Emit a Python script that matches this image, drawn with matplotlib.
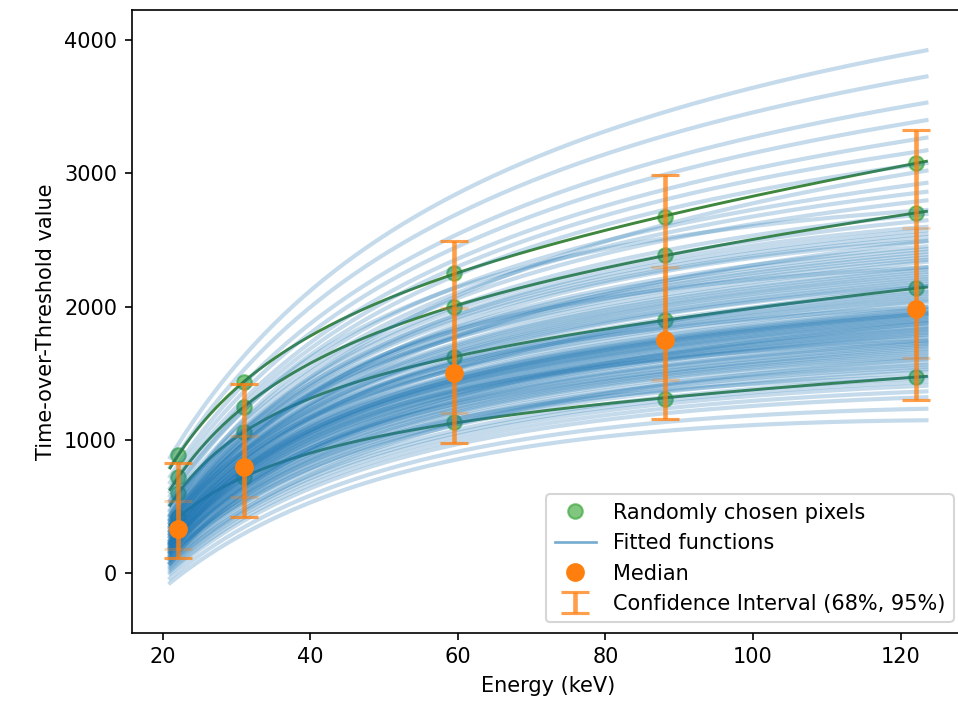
import numpy as np
import matplotlib
matplotlib.use("Agg")
import matplotlib.pyplot as plt
from matplotlib.lines import Line2D

# ---------------- data ----------------
energies = np.array([22.1, 30.97, 59.54, 88.03, 122.06])   # keV

# ToT of the many pixels whose fits form the blue cloud (one entry per pixel)
tot22 = [-20, 52, 88, 114, 134, 205, 167, 181, 193, 152, 216, 226, 236, 245, 296, 263,
         272, 280, 288, 254, 304, 312, 371, 328, 337, 348, 360, 320, 382, 393, 405, 481,
         429, 441, 454, 467, 416, 495, 510, 527, 635, 570, 600, 545, 680, 740, 830, 980,
         16, 70, 101, 124, 143, 160, 174, 187, 199, 211, 221, 231, 241, 250, 259, 268,
         276, 284, 292, 300, 308, 316, 324, 333, 343, 354, 366, 377, 388, 399, 411, 423,
         435, 448, 461, 474, 488, 503, 519, 536, 558, 585, 618, 658, 710, 785, 905, 300]
tot31 = [290, 390, 440, 478, 510, 535, 550, 570, 588, 606, 667, 638, 653, 622, 680, 694,
         707, 719, 731, 744, 756, 768, 779, 791, 803, 865, 828, 840, 852, 815, 878, 891,
         904, 918, 995, 947, 962, 978, 932, 1013, 1032, 1062, 1098, 1140, 1195, 1270, 1390, 1600,
         340, 415, 459, 494, 523, 543, 560, 579, 597, 614, 630, 646, 660, 674, 687, 701,
         713, 725, 738, 750, 762, 774, 785, 797, 809, 822, 834, 846, 859, 872, 885, 898,
         911, 925, 940, 955, 970, 987, 1004, 1023, 1047, 1080, 1119, 1168, 1233, 1330, 1495, 760]
tot59 = [860, 970, 1030, 1075, 1112, 1145, 1175, 1200, 1225, 1248, 1270, 1290, 1309, 1328, 1346, 1363,
         1381, 1397, 1413, 1430, 1445, 1461, 1477, 1492, 1513, 1538, 1564, 1590, 1616, 1643, 1670, 1697,
         1725, 1754, 1784, 1815, 1847, 1880, 1916, 1954, 1995, 2042, 2095, 2180, 2280, 2400, 2580, 2880,
         915, 1000, 1053, 1094, 1129, 1160, 1188, 1213, 1237, 1259, 1280, 1300, 1319, 1337, 1355, 1372,
         1389, 1405, 1422, 1438, 1453, 1469, 1485, 1503, 1526, 1551, 1577, 1603, 1630, 1657, 1684, 1711,
         1740, 1769, 1800, 1831, 1864, 1898, 1935, 1975, 2019, 2069, 2138, 2230, 2340, 2490, 2730, 1470]
tot88 = [1060, 1195, 1268, 1318, 1358, 1392, 1420, 1447, 1472, 1495, 1517, 1538, 1557, 1576, 1594, 1612,
         1629, 1646, 1662, 1679, 1695, 1711, 1727, 1742, 1764, 1793, 1822, 1851, 1880, 1910, 1940, 1970,
         2002, 2034, 2067, 2101, 2137, 2174, 2214, 2257, 2302, 2380, 2460, 2560, 2680, 2830, 3060, 3420,
         1128, 1232, 1293, 1434, 1375, 1406, 1338, 1460, 1484, 1506, 1528, 1548, 1654, 1585, 1603, 1621,
         1638, 1567, 1671, 1687, 1703, 1719, 1735, 1753, 1895, 1808, 1837, 1866, 1779, 1925, 1955, 1986,
         2018, 2194, 2084, 2119, 2156, 2051, 2236, 2280, 2341, 2620, 2510, 2420, 2755, 2945, 3240, 1720]
tot122 = [1150, 1320, 1405, 1463, 1508, 1545, 1578, 1609, 1640, 1669, 1696, 1721, 1745, 1769, 1791, 1813,
          1834, 1855, 1875, 1895, 1915, 1935, 1954, 1973, 1999, 2030, 2062, 2094, 2127, 2160, 2194, 2228,
          2263, 2299, 2336, 2375, 2416, 2458, 2503, 2553, 2607, 2700, 2800, 2930, 3080, 3270, 3530, 3920,
          1235, 1363, 1434, 1594, 1527, 1562, 1486, 1625, 1655, 1683, 1709, 1733, 1865, 1780, 1802, 1824,
          1845, 1757, 1885, 1905, 1925, 1945, 1964, 1986, 2144, 2046, 2078, 2111, 2015, 2177, 2211, 2246,
          2281, 2481, 2356, 2396, 2437, 2318, 2528, 2580, 2654, 3005, 2865, 2750, 3175, 3400, 3725, 1950]

# randomly chosen pixels (green)
pix_a = [887, 1435, 2250, 2675, 3077]
pix_b = [720, 1250, 1998, 2390, 2700]
pix_c = [600, 1060, 1623, 1900, 2137]
pix_d = [420, 720, 1135, 1308, 1475]

# statistics over all pixels
median = np.array([332, 797, 1500, 1750, 1983])
ci68_lo = np.array([183, 570, 1203, 1450, 1613])
ci68_hi = np.array([545, 1030, 1990, 2297, 2590])
ci95_lo = np.array([115, 420, 977, 1157, 1300])
ci95_hi = np.array([830, 1420, 2492, 2988, 3325])


# ---------------- surrogate fit ----------------
def model(E, a, b, c, t):
    return a * E + b - c / (E - t)


def fit_surrogate(E, y):
    y = np.asarray(y, float)
    best = None
    for t in np.linspace(-40, 17, 115):
        A = np.column_stack([E, np.ones_like(E), -1.0 / (E - t)])
        coef, *_ = np.linalg.lstsq(A, y, rcond=None)
        if coef[2] < 0:
            continue
        r = np.sum((A @ coef - y) ** 2)
        if best is None or r < best[0]:
            best = (r, coef, t)
    a, b, c = best[1]
    return a, b, c, best[2]


E_fine = np.linspace(21.0, 123.5, 300)

fig = plt.figure(figsize=(958 / 150, 702 / 150), dpi=150)
ax = fig.add_axes([0.1375, 0.0987, 0.8688, 0.8871])

for vals in (pix_a, pix_b, pix_c, pix_d):
    ax.plot(energies, vals, "o", color="C2", alpha=0.6, ms=7, zorder=1)
    p = fit_surrogate(energies, vals)
    ax.plot(E_fine, model(E_fine, *p), color="#2a7a2a", alpha=0.9, lw=1.4, zorder=1)

for vals in zip(tot22, tot31, tot59, tot88, tot122):
    p = fit_surrogate(energies, vals)
    ax.plot(E_fine, model(E_fine, *p), color="C0", alpha=0.26, lw=2.0, zorder=2)

eb95 = ax.errorbar(energies, median, yerr=[median - ci95_lo, ci95_hi - median],
                   fmt="none", ecolor="C1", elinewidth=2.2, capsize=6.5, capthick=1.5,
                   alpha=0.75, zorder=4)
ax.errorbar(energies, median, yerr=[median - ci68_lo, ci68_hi - median],
            fmt="none", ecolor="C1", elinewidth=2.2, capsize=6.5, capthick=1.5,
            alpha=0.3, zorder=4)
ax.plot(energies, median, "o", color="C1", ms=8, zorder=5)

ax.set_xlim(15.8, 128.6)
ax.set_ylim(-445, 4225)
ax.set_xticks([20, 40, 60, 80, 100, 120])
ax.set_yticks([0, 1000, 2000, 3000, 4000])
ax.set_xlabel("Energy (keV)", fontsize=10)
ax.set_ylabel("Time-over-Threshold value", fontsize=10)

h_pix = Line2D([], [], marker="o", ls="none", color="C2", alpha=0.6, ms=7)
h_fit = Line2D([], [], color="C0", alpha=0.6, lw=1.3)
h_med = Line2D([], [], marker="o", ls="none", color="C1", ms=8)
ax.legend([h_pix, h_fit, h_med, eb95],
          ["Randomly chosen pixels", "Fitted functions", "Median",
           "Confidence Interval (68%, 95%)"],
          loc="lower right", fontsize=10)

fig.savefig("out.png", dpi=150)
